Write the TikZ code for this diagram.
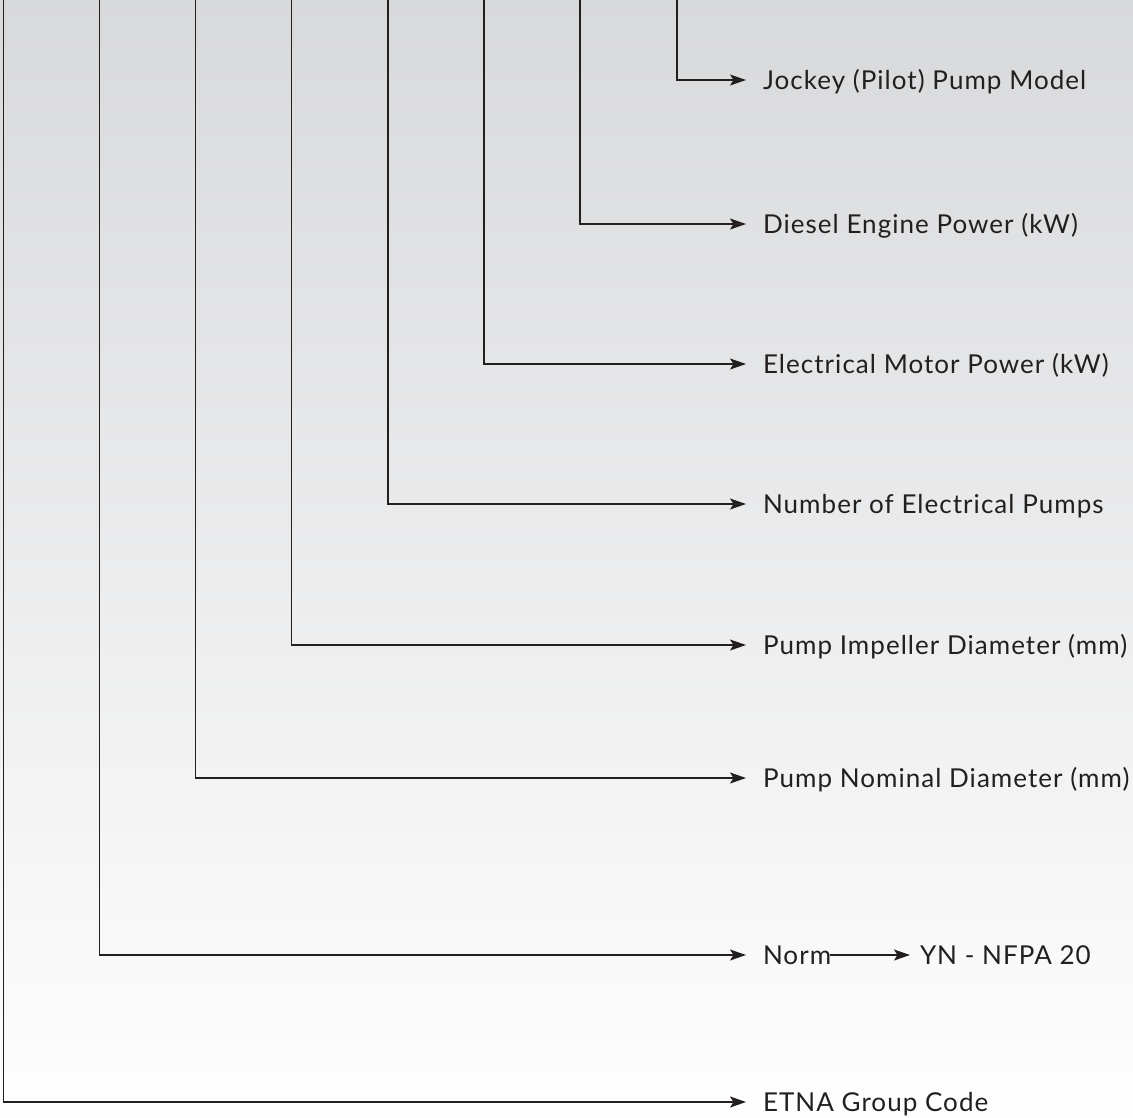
\documentclass[tikz,border=0pt]{standalone}
\usepackage{fontspec}
\setmainfont{Lato}[LetterSpace=4]
\usetikzlibrary{arrows.meta}
\definecolor{custcol_bg_top}{RGB}{216, 217, 219}
\definecolor{custcol_bg_bot}{RGB}{254, 254, 254}
\definecolor{custcol_ink}{RGB}{35, 31, 32}
\tikzset{
  lbl/.style={inner sep=0, outer sep=0, anchor=west, text height=18pt, text depth=0pt,
    custcol_ink, font=\fontsize{26pt}{26pt}\selectfont},
  conn/.style={line width=1.4pt, custcol_ink, shorten >=17pt,
    -{Stealth[length=16pt, width=11pt, inset=3.5pt]}},
}
\begin{document}
\begin{tikzpicture}[x=1pt,y=-1pt,line cap=rect]
\useasboundingbox (0,0) rectangle (1133,1117);
\shade [top color=custcol_bg_top, bottom color=custcol_bg_bot] (0,0) rectangle (1133,1117);
% top ends of the code columns
\coordinate (etnatop) at (3.5,1);
\coordinate (normtop) at (99.5,1);
\coordinate (nominaltop) at (195.5,1);
\coordinate (impellertop) at (291.5,1);
\coordinate (numbertop) at (388,1);
\coordinate (motortop) at (484,1);
\coordinate (dieseltop) at (580,1);
\coordinate (jockeytop) at (677,1);
% labels
\node[lbl] (jockey) at (763,80) {Jockey (Pilot) Pump Model};
\node[lbl] (diesel) at (763,224) {Diesel Engine Power (kW)};
\node[lbl] (motor) at (763,364) {Electrical Motor Power (kW)};
\node[lbl] (number) at (763,504) {Number of Electrical Pumps};
\node[lbl] (impeller) at (763,645) {Pump Impeller Diameter (mm)};
\node[lbl] (nominal) at (763,778) {Pump Nominal Diameter (mm)};
\node[lbl] (norm) at (763,955) {Norm};
\node[lbl] (nfpa) at (920,955) {YN - NFPA 20};
\node[lbl] (etna) at (763,1102) {ETNA Group Code};
% connectors
\draw [conn] (jockeytop) |- (jockey.west);
\draw [conn] (dieseltop) |- (diesel.west);
\draw [conn] (motortop) |- (motor.west);
\draw [conn] (numbertop) |- (number.west);
\draw [conn] (impellertop) |- (impeller.west);
\draw [conn] (nominaltop) |- (nominal.west);
\draw [conn] (normtop) |- (norm.west);
\draw [conn, shorten >=10pt] (norm.east) -- (nfpa.west);
\draw [conn] (etnatop) |- (etna.west);
\end{tikzpicture}
\end{document}
